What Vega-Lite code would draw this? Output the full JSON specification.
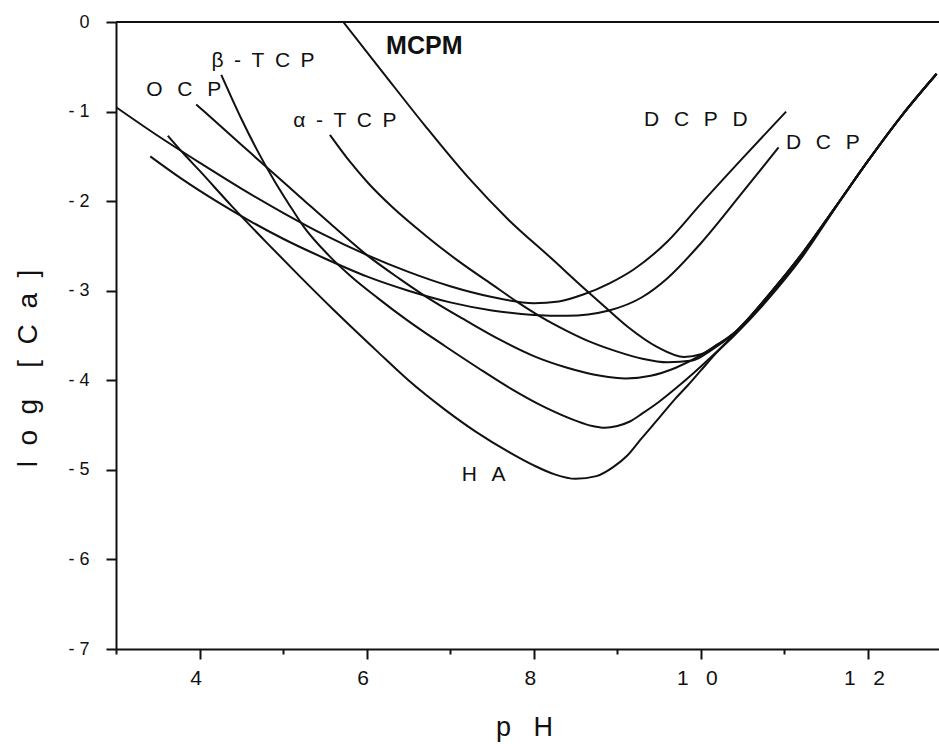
{
  "$schema": "https://vega.github.io/schema/vega-lite/v6.json",
  "width": 823,
  "height": 627,
  "autosize": "none",
  "padding": {"left": 116, "top": 22, "right": 0, "bottom": 95},
  "background": "white",
  "config": {"view": {"stroke": null}, "font": "Liberation Sans"},
  "datasets": {
    "curves": [
      {"curve": "DCPD", "pH": 3.0, "logCa": -0.95}, {"curve": "DCPD", "pH": 3.5, "logCa": -1.27}, {"curve": "DCPD", "pH": 4.0, "logCa": -1.57}, {"curve": "DCPD", "pH": 4.5, "logCa": -1.86}, {"curve": "DCPD", "pH": 5.0, "logCa": -2.13}, {"curve": "DCPD", "pH": 5.5, "logCa": -2.38}, {"curve": "DCPD", "pH": 6.0, "logCa": -2.6}, {"curve": "DCPD", "pH": 6.5, "logCa": -2.79}, {"curve": "DCPD", "pH": 7.0, "logCa": -2.95}, {"curve": "DCPD", "pH": 7.5, "logCa": -3.07}, {"curve": "DCPD", "pH": 8.0, "logCa": -3.14}, {"curve": "DCPD", "pH": 8.3, "logCa": -3.12}, {"curve": "DCPD", "pH": 8.6, "logCa": -3.04}, {"curve": "DCPD", "pH": 8.9, "logCa": -2.92}, {"curve": "DCPD", "pH": 9.2, "logCa": -2.76}, {"curve": "DCPD", "pH": 9.6, "logCa": -2.45}, {"curve": "DCPD", "pH": 10.0, "logCa": -2.03}, {"curve": "DCPD", "pH": 10.5, "logCa": -1.52}, {"curve": "DCPD", "pH": 11.02, "logCa": -1.0},
      {"curve": "DCP", "pH": 3.41, "logCa": -1.5}, {"curve": "DCP", "pH": 3.8, "logCa": -1.76}, {"curve": "DCP", "pH": 4.2, "logCa": -2.0}, {"curve": "DCP", "pH": 4.6, "logCa": -2.22}, {"curve": "DCP", "pH": 5.0, "logCa": -2.42}, {"curve": "DCP", "pH": 5.5, "logCa": -2.64}, {"curve": "DCP", "pH": 6.0, "logCa": -2.84}, {"curve": "DCP", "pH": 6.5, "logCa": -3.0}, {"curve": "DCP", "pH": 7.0, "logCa": -3.13}, {"curve": "DCP", "pH": 7.5, "logCa": -3.22}, {"curve": "DCP", "pH": 8.0, "logCa": -3.27}, {"curve": "DCP", "pH": 8.4, "logCa": -3.28}, {"curve": "DCP", "pH": 8.9, "logCa": -3.22}, {"curve": "DCP", "pH": 9.3, "logCa": -3.07}, {"curve": "DCP", "pH": 9.6, "logCa": -2.86}, {"curve": "DCP", "pH": 10.0, "logCa": -2.47}, {"curve": "DCP", "pH": 10.5, "logCa": -1.9}, {"curve": "DCP", "pH": 10.93, "logCa": -1.4},
      {"curve": "OCP", "pH": 3.96, "logCa": -0.92}, {"curve": "OCP", "pH": 4.2, "logCa": -1.12}, {"curve": "OCP", "pH": 4.5, "logCa": -1.37}, {"curve": "OCP", "pH": 4.8, "logCa": -1.62}, {"curve": "OCP", "pH": 5.2, "logCa": -1.95}, {"curve": "OCP", "pH": 5.6, "logCa": -2.28}, {"curve": "OCP", "pH": 6.0, "logCa": -2.6}, {"curve": "OCP", "pH": 6.4, "logCa": -2.87}, {"curve": "OCP", "pH": 6.8, "logCa": -3.12}, {"curve": "OCP", "pH": 7.2, "logCa": -3.34}, {"curve": "OCP", "pH": 7.6, "logCa": -3.55}, {"curve": "OCP", "pH": 8.0, "logCa": -3.73}, {"curve": "OCP", "pH": 8.4, "logCa": -3.86}, {"curve": "OCP", "pH": 8.8, "logCa": -3.95}, {"curve": "OCP", "pH": 9.1, "logCa": -3.98}, {"curve": "OCP", "pH": 9.4, "logCa": -3.95}, {"curve": "OCP", "pH": 9.7, "logCa": -3.86}, {"curve": "OCP", "pH": 10.0, "logCa": -3.72}, {"curve": "OCP", "pH": 10.2, "logCa": -3.6}, {"curve": "OCP", "pH": 10.4, "logCa": -3.48}, {"curve": "OCP", "pH": 10.8, "logCa": -3.06}, {"curve": "OCP", "pH": 11.2, "logCa": -2.6}, {"curve": "OCP", "pH": 11.6, "logCa": -2.08}, {"curve": "OCP", "pH": 12.0, "logCa": -1.55}, {"curve": "OCP", "pH": 12.4, "logCa": -1.05}, {"curve": "OCP", "pH": 12.82, "logCa": -0.58},
      {"curve": "β-TCP", "pH": 4.26, "logCa": -0.59}, {"curve": "β-TCP", "pH": 4.4, "logCa": -0.88}, {"curve": "β-TCP", "pH": 4.5, "logCa": -1.08}, {"curve": "β-TCP", "pH": 4.7, "logCa": -1.45}, {"curve": "β-TCP", "pH": 4.9, "logCa": -1.78}, {"curve": "β-TCP", "pH": 5.06, "logCa": -2.02}, {"curve": "β-TCP", "pH": 5.25, "logCa": -2.29}, {"curve": "β-TCP", "pH": 5.54, "logCa": -2.6}, {"curve": "β-TCP", "pH": 5.8, "logCa": -2.83}, {"curve": "β-TCP", "pH": 6.13, "logCa": -3.08}, {"curve": "β-TCP", "pH": 6.5, "logCa": -3.34}, {"curve": "β-TCP", "pH": 6.94, "logCa": -3.62}, {"curve": "β-TCP", "pH": 7.33, "logCa": -3.86}, {"curve": "β-TCP", "pH": 7.72, "logCa": -4.09}, {"curve": "β-TCP", "pH": 8.13, "logCa": -4.3}, {"curve": "β-TCP", "pH": 8.5, "logCa": -4.45}, {"curve": "β-TCP", "pH": 8.7, "logCa": -4.51}, {"curve": "β-TCP", "pH": 8.85, "logCa": -4.53}, {"curve": "β-TCP", "pH": 9.0, "logCa": -4.51}, {"curve": "β-TCP", "pH": 9.15, "logCa": -4.46}, {"curve": "β-TCP", "pH": 9.3, "logCa": -4.37}, {"curve": "β-TCP", "pH": 9.5, "logCa": -4.24}, {"curve": "β-TCP", "pH": 9.7, "logCa": -4.09}, {"curve": "β-TCP", "pH": 9.9, "logCa": -3.93}, {"curve": "β-TCP", "pH": 10.1, "logCa": -3.76}, {"curve": "β-TCP", "pH": 10.3, "logCa": -3.58}, {"curve": "β-TCP", "pH": 10.4, "logCa": -3.48}, {"curve": "β-TCP", "pH": 10.8, "logCa": -3.08}, {"curve": "β-TCP", "pH": 11.2, "logCa": -2.62}, {"curve": "β-TCP", "pH": 11.6, "logCa": -2.08}, {"curve": "β-TCP", "pH": 12.0, "logCa": -1.55}, {"curve": "β-TCP", "pH": 12.4, "logCa": -1.05}, {"curve": "β-TCP", "pH": 12.82, "logCa": -0.58},
      {"curve": "HA", "pH": 3.62, "logCa": -1.27}, {"curve": "HA", "pH": 3.8, "logCa": -1.46}, {"curve": "HA", "pH": 4.0, "logCa": -1.66}, {"curve": "HA", "pH": 4.38, "logCa": -2.05}, {"curve": "HA", "pH": 4.8, "logCa": -2.46}, {"curve": "HA", "pH": 5.2, "logCa": -2.84}, {"curve": "HA", "pH": 5.6, "logCa": -3.21}, {"curve": "HA", "pH": 6.13, "logCa": -3.68}, {"curve": "HA", "pH": 6.5, "logCa": -4.0}, {"curve": "HA", "pH": 6.94, "logCa": -4.33}, {"curve": "HA", "pH": 7.3, "logCa": -4.57}, {"curve": "HA", "pH": 7.72, "logCa": -4.81}, {"curve": "HA", "pH": 8.0, "logCa": -4.95}, {"curve": "HA", "pH": 8.25, "logCa": -5.05}, {"curve": "HA", "pH": 8.5, "logCa": -5.1}, {"curve": "HA", "pH": 8.75, "logCa": -5.07}, {"curve": "HA", "pH": 8.95, "logCa": -4.97}, {"curve": "HA", "pH": 9.12, "logCa": -4.84}, {"curve": "HA", "pH": 9.28, "logCa": -4.66}, {"curve": "HA", "pH": 9.5, "logCa": -4.42}, {"curve": "HA", "pH": 9.69, "logCa": -4.21}, {"curve": "HA", "pH": 9.85, "logCa": -4.05}, {"curve": "HA", "pH": 10.0, "logCa": -3.89}, {"curve": "HA", "pH": 10.2, "logCa": -3.68}, {"curve": "HA", "pH": 10.4, "logCa": -3.5}, {"curve": "HA", "pH": 10.8, "logCa": -3.1}, {"curve": "HA", "pH": 11.2, "logCa": -2.64}, {"curve": "HA", "pH": 11.6, "logCa": -2.09}, {"curve": "HA", "pH": 12.0, "logCa": -1.55}, {"curve": "HA", "pH": 12.4, "logCa": -1.05}, {"curve": "HA", "pH": 12.82, "logCa": -0.58},
      {"curve": "α-TCP", "pH": 5.56, "logCa": -1.26}, {"curve": "α-TCP", "pH": 5.8, "logCa": -1.56}, {"curve": "α-TCP", "pH": 6.02, "logCa": -1.8}, {"curve": "α-TCP", "pH": 6.3, "logCa": -2.06}, {"curve": "α-TCP", "pH": 6.7, "logCa": -2.38}, {"curve": "α-TCP", "pH": 7.1, "logCa": -2.67}, {"curve": "α-TCP", "pH": 7.5, "logCa": -2.93}, {"curve": "α-TCP", "pH": 7.81, "logCa": -3.13}, {"curve": "α-TCP", "pH": 8.1, "logCa": -3.3}, {"curve": "α-TCP", "pH": 8.4, "logCa": -3.45}, {"curve": "α-TCP", "pH": 8.7, "logCa": -3.58}, {"curve": "α-TCP", "pH": 9.0, "logCa": -3.68}, {"curve": "α-TCP", "pH": 9.3, "logCa": -3.76}, {"curve": "α-TCP", "pH": 9.6, "logCa": -3.8}, {"curve": "α-TCP", "pH": 9.9, "logCa": -3.78}, {"curve": "α-TCP", "pH": 10.1, "logCa": -3.68}, {"curve": "α-TCP", "pH": 10.4, "logCa": -3.47}, {"curve": "α-TCP", "pH": 10.8, "logCa": -3.06}, {"curve": "α-TCP", "pH": 11.2, "logCa": -2.6}, {"curve": "α-TCP", "pH": 11.6, "logCa": -2.08}, {"curve": "α-TCP", "pH": 12.0, "logCa": -1.55}, {"curve": "α-TCP", "pH": 12.4, "logCa": -1.05}, {"curve": "α-TCP", "pH": 12.82, "logCa": -0.58},
      {"curve": "MCPM", "pH": 5.72, "logCa": 0.0}, {"curve": "MCPM", "pH": 6.2, "logCa": -0.57}, {"curve": "MCPM", "pH": 6.7, "logCa": -1.16}, {"curve": "MCPM", "pH": 7.21, "logCa": -1.73}, {"curve": "MCPM", "pH": 7.7, "logCa": -2.21}, {"curve": "MCPM", "pH": 8.2, "logCa": -2.63}, {"curve": "MCPM", "pH": 8.61, "logCa": -2.98}, {"curve": "MCPM", "pH": 8.85, "logCa": -3.18}, {"curve": "MCPM", "pH": 9.12, "logCa": -3.4}, {"curve": "MCPM", "pH": 9.48, "logCa": -3.63}, {"curve": "MCPM", "pH": 9.8, "logCa": -3.74}, {"curve": "MCPM", "pH": 10.0, "logCa": -3.71}, {"curve": "MCPM", "pH": 10.2, "logCa": -3.6}, {"curve": "MCPM", "pH": 10.4, "logCa": -3.47}, {"curve": "MCPM", "pH": 10.8, "logCa": -3.06}, {"curve": "MCPM", "pH": 11.2, "logCa": -2.6}, {"curve": "MCPM", "pH": 11.6, "logCa": -2.08}, {"curve": "MCPM", "pH": 12.0, "logCa": -1.55}, {"curve": "MCPM", "pH": 12.4, "logCa": -1.05}, {"curve": "MCPM", "pH": 12.82, "logCa": -0.58}
    ],
    "labels": [
      {"label": "MCPM", "pH": 6.69, "logCa": -0.27},
      {"label": "β\u2002-\u2002T\u2002C\u2002P", "pH": 4.76, "logCa": -0.44},
      {"label": "O\u2002\u2009C\u2002\u2009P", "pH": 3.81, "logCa": -0.76},
      {"label": "α\u2002-\u2002T\u2002C\u2002P", "pH": 5.74, "logCa": -1.1},
      {"label": "D\u2002\u2009C\u2002\u2009P\u2002\u2009D", "pH": 9.94, "logCa": -1.09},
      {"label": "D\u2002\u2009C\u2002\u2009P", "pH": 11.46, "logCa": -1.35},
      {"label": "H\u2002\u2009A", "pH": 7.4, "logCa": -5.06}
    ]
  },
  "layer": [
    {
      "data": {"name": "curves"},
      "mark": {"type": "line", "color": "#111111", "strokeWidth": 2, "interpolate": "monotone", "clip": true},
      "encoding": {
        "x": {
          "field": "pH", "type": "quantitative",
          "scale": {"domain": [3, 12.85], "nice": false, "zero": false},
          "axis": {
            "values": [3, 4, 5, 6, 7, 8, 9, 10, 11, 12],
            "labelExpr": "datum.value == 10 ? '1\u00a0\u00a0\u00a00' : datum.value == 12 ? '1\u00a0\u00a0\u00a02' : (datum.value % 2 == 0 && datum.value > 3 ? '' + datum.value : '')",
            "domainColor": "#111111", "domainWidth": 2,
            "tickColor": "#111111", "tickWidth": 2,
            "tickSize": {"condition": {"test": "datum.value % 2 == 1", "value": 5}, "value": 10},
            "labelFont": "Liberation Sans", "labelFontSize": 21, "labelColor": "#111111",
            "labelPadding": 8, "labelOffset": -4, "labelFlush": false,
            "grid": false,
            "title": "p\u00a0\u00a0\u00a0H", "titleFont": "Liberation Sans", "titleFontSize": 27, "titleFontWeight": "normal",
            "titleColor": "#111111", "titleX": 408, "titleY": 86, "titleBaseline": "alphabetic", "titleAlign": "center"
          }
        },
        "y": {
          "field": "logCa", "type": "quantitative",
          "scale": {"domain": [-7, 0], "nice": false, "zero": false},
          "axis": {
            "values": [0, -1, -2, -3, -4, -5, -6, -7],
            "labelExpr": "datum.value == 0 ? '0' : '-\u00a0' + abs(datum.value)",
            "domainColor": "#111111", "domainWidth": 2,
            "tickColor": "#111111", "tickWidth": 2, "tickSize": 10,
            "labelFont": "Liberation Sans", "labelFontSize": 18, "labelColor": "#111111",
            "labelPadding": 17, "grid": false,
            "title": "l\u00a0\u00a0o\u00a0\u00a0g\u00a0\u00a0\u00a0\u00a0[\u00a0\u00a0C\u00a0\u00a0a\u00a0\u00a0]", "titleFont": "Liberation Sans", "titleFontSize": 28, "titleFontWeight": "normal",
            "titleColor": "#111111", "titleAngle": -90, "titleX": -88, "titleY": 346, "titleBaseline": "middle", "titleAlign": "center"
          }
        },
        "detail": {"field": "curve"}
      }
    },
    {
      "data": {"values": [{}]},
      "mark": {"type": "rule", "color": "#111111", "strokeWidth": 2},
      "encoding": {"y": {"datum": 0, "type": "quantitative"}}
    },
    {
      "data": {"name": "labels"},
      "transform": [{"filter": "datum.label == 'MCPM'"}],
      "mark": {"type": "text", "font": "Liberation Sans", "fontSize": 25, "fontWeight": "bold", "color": "#111111", "align": "center", "baseline": "middle"},
      "encoding": {
        "x": {"field": "pH", "type": "quantitative"},
        "y": {"field": "logCa", "type": "quantitative"},
        "text": {"field": "label"}
      }
    },
    {
      "data": {"name": "labels"},
      "transform": [{"filter": "datum.label != 'MCPM'"}],
      "mark": {"type": "text", "font": "Liberation Sans", "fontSize": 21, "color": "#111111", "align": "center", "baseline": "middle"},
      "encoding": {
        "x": {"field": "pH", "type": "quantitative"},
        "y": {"field": "logCa", "type": "quantitative"},
        "text": {"field": "label"}
      }
    }
  ]
}
